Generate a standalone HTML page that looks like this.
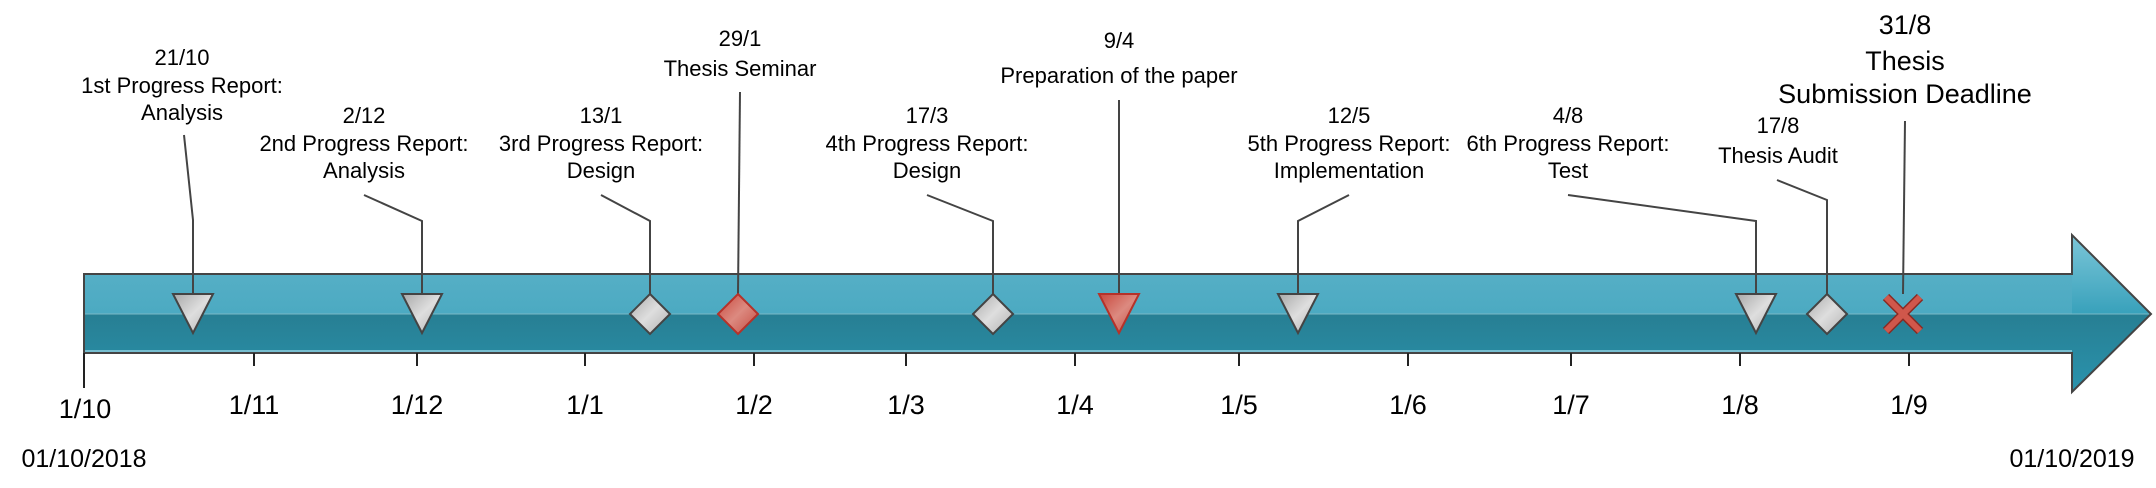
<!DOCTYPE html>
<html><head><meta charset="utf-8"><style>
html,body{margin:0;padding:0;background:#fff;}
svg{display:block;}
text{font-family:"Liberation Sans",Arial,sans-serif;fill:#000;}
</style></head><body>
<svg width="2156" height="488" viewBox="0 0 2156 488" xmlns="http://www.w3.org/2000/svg">
<defs>
<linearGradient id="gt" x1="0" y1="0" x2="0" y2="1"><stop offset="0" stop-color="#7cc6d8"/><stop offset="1" stop-color="#38a1bb"/></linearGradient>
<linearGradient id="gtb" x1="0" y1="0" x2="0" y2="1"><stop offset="0" stop-color="#5fb3c9"/><stop offset="1" stop-color="#38a1bb"/></linearGradient>
<linearGradient id="gb" x1="0" y1="0" x2="0" y2="1"><stop offset="0" stop-color="#246a79"/><stop offset="1" stop-color="#2a93ad"/></linearGradient>
<linearGradient id="gray" x1="0" y1="0" x2="1" y2="1"><stop offset="0" stop-color="#a8a8a8"/><stop offset="0.5" stop-color="#dedede"/><stop offset="1" stop-color="#b0b0b0"/></linearGradient>
<linearGradient id="red" x1="0" y1="0" x2="1" y2="1"><stop offset="0" stop-color="#c9473c"/><stop offset="0.5" stop-color="#dc8a80"/><stop offset="1" stop-color="#c44a40"/></linearGradient>
<clipPath id="topc"><rect x="0" y="0" width="2156" height="314"/></clipPath>
<clipPath id="botc"><rect x="0" y="314" width="2156" height="200"/></clipPath>
</defs>
<!-- arrow -->
<path id="ar" d="M84,274 L2072,274 L2072,235 L2151,314 L2072,392 L2072,353 L84,353 Z" fill="url(#gtb)" clip-path="url(#topc)"/>
<path d="M2072,235 L2151,314 L2072,314 Z" fill="url(#gt)"/>
<path d="M84,274 L2072,274 L2072,235 L2151,314 L2072,392 L2072,353 L84,353 Z" fill="url(#gb)" clip-path="url(#botc)"/>
<line x1="84" y1="314" x2="2150" y2="314" stroke="#7ab8c6" stroke-width="1"/>
<line x1="84" y1="351" x2="2072" y2="351" stroke="#8fd0e0" stroke-width="1.5"/>
<path d="M84,274 L2072,274 L2072,235 L2151,314 L2072,392 L2072,353 L84,353 Z" fill="none" stroke="#444" stroke-width="2"/>
<!-- ticks -->
<g stroke="#222" stroke-width="2">
<line x1="84" y1="353" x2="84" y2="388"/>
<line x1="254" y1="353" x2="254" y2="366"/>
<line x1="417" y1="353" x2="417" y2="366"/>
<line x1="585" y1="353" x2="585" y2="366"/>
<line x1="754" y1="353" x2="754" y2="366"/>
<line x1="906" y1="353" x2="906" y2="366"/>
<line x1="1075" y1="353" x2="1075" y2="366"/>
<line x1="1239" y1="353" x2="1239" y2="366"/>
<line x1="1408" y1="353" x2="1408" y2="366"/>
<line x1="1571" y1="353" x2="1571" y2="366"/>
<line x1="1740" y1="353" x2="1740" y2="366"/>
<line x1="1909" y1="353" x2="1909" y2="366"/>
</g>
<g font-size="27" text-anchor="middle">
<text x="85" y="418">1/10</text>
<text x="254" y="414">1/11</text>
<text x="417" y="414">1/12</text>
<text x="585" y="414">1/1</text>
<text x="754" y="414">1/2</text>
<text x="906" y="414">1/3</text>
<text x="1075" y="414">1/4</text>
<text x="1239" y="414">1/5</text>
<text x="1408" y="414">1/6</text>
<text x="1571" y="414">1/7</text>
<text x="1740" y="414">1/8</text>
<text x="1909" y="414">1/9</text>
</g>
<g font-size="25" text-anchor="middle">
<text x="84" y="467">01/10/2018</text>
<text x="2072" y="467">01/10/2019</text>
</g>
<!-- leaders -->
<g stroke="#444" stroke-width="2" fill="none">
<polyline points="184,135 193,220 193,294"/>
<polyline points="364,195 422,221 422,294"/>
<polyline points="601,195 650,221 650,294"/>
<polyline points="740,92 738,294"/>
<polyline points="927,195 993,221 993,294"/>
<polyline points="1119,100 1119,294"/>
<polyline points="1349,195 1298,221 1298,294"/>
<polyline points="1568,195 1756,221 1756,294"/>
<polyline points="1777,180 1827,200 1827,294"/>
<polyline points="1905,121 1903,294"/>
</g>
<!-- markers -->
<g stroke="#444" stroke-width="2">
<polygon points="173,294 213,294 193,333" fill="url(#gray)"/>
<polygon points="402,294 442,294 422,333" fill="url(#gray)"/>
<polygon points="650,294 670,314 650,334 630,314" fill="url(#gray)"/>
<polygon points="738,294 758,314 738,334 718,314" fill="url(#red)" stroke="#b5322a"/>
<polygon points="993,294 1013,314 993,334 973,314" fill="url(#gray)"/>
<polygon points="1099,294 1139,294 1119,333" fill="url(#red)" stroke="#b5322a"/>
<polygon points="1278,294 1318,294 1298,333" fill="url(#gray)"/>
<polygon points="1736,294 1776,294 1756,333" fill="url(#gray)"/>
<polygon points="1827,294 1847,314 1827,334 1807,314" fill="url(#gray)"/>
</g>
<g stroke="#8a2a22" stroke-width="9" stroke-linecap="butt">
<line x1="1886" y1="297" x2="1920" y2="331"/><line x1="1920" y1="297" x2="1886" y2="331"/>
</g>
<g stroke="#d0574b" stroke-width="6">
<line x1="1886" y1="297" x2="1920" y2="331"/><line x1="1920" y1="297" x2="1886" y2="331"/>
</g>
<!-- labels -->
<g font-size="22" text-anchor="middle">
<text x="182" y="65">21/10</text><text x="182" y="93">1st Progress Report:</text><text x="182" y="120">Analysis</text>
<text x="364" y="123">2/12</text><text x="364" y="151">2nd Progress Report:</text><text x="364" y="178">Analysis</text>
<text x="601" y="123">13/1</text><text x="601" y="151">3rd Progress Report:</text><text x="601" y="178">Design</text>
<text x="740" y="46">29/1</text><text x="740" y="76">Thesis Seminar</text>
<text x="1119" y="48">9/4</text><text x="1119" y="83">Preparation of the paper</text>
<text x="927" y="123">17/3</text><text x="927" y="151">4th Progress Report:</text><text x="927" y="178">Design</text>
<text x="1349" y="123">12/5</text><text x="1349" y="151">5th Progress Report:</text><text x="1349" y="178">Implementation</text>
<text x="1568" y="123">4/8</text><text x="1568" y="151">6th Progress Report:</text><text x="1568" y="178">Test</text>
<text x="1778" y="133">17/8</text><text x="1778" y="163">Thesis Audit</text>
</g>
<g font-size="27" text-anchor="middle">
<text x="1905" y="34">31/8</text><text x="1905" y="70">Thesis</text><text x="1905" y="103">Submission Deadline</text>
</g>
</svg>
</body></html>
